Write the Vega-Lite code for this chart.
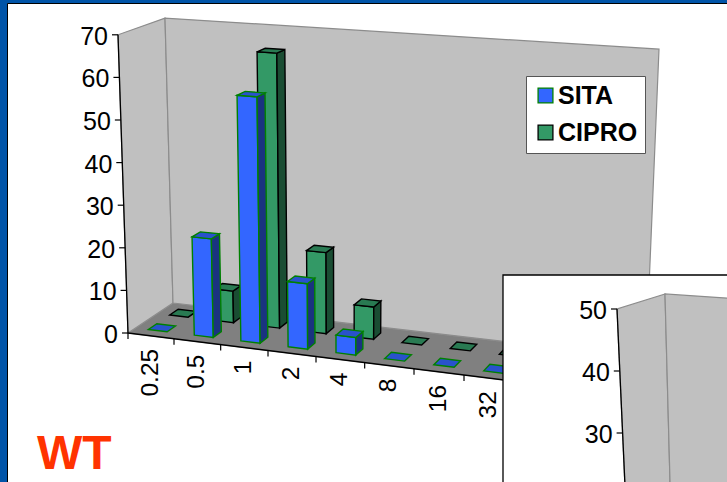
{
  "$schema": "https://vega.github.io/schema/vega-lite/v6.json",
  "width": 720,
  "height": 479,
  "padding": {"left": 7, "top": 3, "right": 0, "bottom": 0},
  "autosize": {"type": "none"},
  "background": "#0054A8",
  "view": {"fill": "#FFFFFF", "stroke": "#000000", "strokeWidth": 1},
  "params": [
    {"name": "insetLeft", "value": 503},
    {"name": "insetTop", "value": 275},
    {"name": "strainLeft", "value": 37},
    {"name": "strainBaseline", "value": 469}
  ],
  "resolve": {"legend": {"fill": "independent", "stroke": "independent", "color": "independent"}},
  "datasets": {
    "strain": [{"label": "WT"}],
    "bars": [
      {"series": "CIPRO", "dose": "0.25", "slot": 0, "value": 0},
      {"series": "CIPRO", "dose": "0.5", "slot": 1, "value": 7.5},
      {"series": "CIPRO", "dose": "1", "slot": 2, "value": 65},
      {"series": "CIPRO", "dose": "2", "slot": 3, "value": 19},
      {"series": "CIPRO", "dose": "4", "slot": 4, "value": 7.5},
      {"series": "CIPRO", "dose": "8", "slot": 5, "value": 0},
      {"series": "CIPRO", "dose": "16", "slot": 6, "value": 0},
      {"series": "CIPRO", "dose": "32", "slot": 7, "value": 0},
      {"series": "SITA", "dose": "0.25", "slot": 0, "value": 0},
      {"series": "SITA", "dose": "0.5", "slot": 1, "value": 23},
      {"series": "SITA", "dose": "1", "slot": 2, "value": 57},
      {"series": "SITA", "dose": "2", "slot": 3, "value": 15},
      {"series": "SITA", "dose": "4", "slot": 4, "value": 4},
      {"series": "SITA", "dose": "8", "slot": 5, "value": 0},
      {"series": "SITA", "dose": "16", "slot": 6, "value": 0},
      {"series": "SITA", "dose": "32", "slot": 7, "value": 0}
    ],
    "surfaces": [
      {"surface": "floor", "vertex": 0, "u": 0, "w": 0, "h": 0},
      {"surface": "floor", "vertex": 1, "u": 10, "w": 0, "h": 0},
      {"surface": "floor", "vertex": 2, "u": 10, "w": 1, "h": 0},
      {"surface": "floor", "vertex": 3, "u": 0, "w": 1, "h": 0},
      {"surface": "side", "vertex": 0, "u": 0, "w": 0, "h": 0},
      {"surface": "side", "vertex": 1, "u": 0, "w": 1, "h": 0},
      {"surface": "side", "vertex": 2, "u": 0, "w": 1, "h": 70},
      {"surface": "side", "vertex": 3, "u": 0, "w": 0, "h": 70},
      {"surface": "back", "vertex": 0, "u": 0, "w": 1, "h": 0},
      {"surface": "back", "vertex": 1, "u": 10, "w": 1, "h": 0},
      {"surface": "back", "vertex": 2, "u": 10, "w": 1, "h": 70},
      {"surface": "back", "vertex": 3, "u": 0, "w": 1, "h": 70}
    ],
    "axisLines": [
      {"line": "value", "vertex": 0, "u": 0, "w": 0, "h": 0},
      {"line": "value", "vertex": 1, "u": 0, "w": 0, "h": 70},
      {"line": "dose", "vertex": 0, "u": 0, "w": 0, "h": 0},
      {"line": "dose", "vertex": 1, "u": 10, "w": 0, "h": 0}
    ],
    "valueTicks": [
      {"h": 0}, {"h": 10}, {"h": 20}, {"h": 30},
      {"h": 40}, {"h": 50}, {"h": 60}, {"h": 70}
    ],
    "insetPanel": [{"panel": "inset"}],
    "insetSurfaces": [
      {"surface": "side", "vertex": 0, "u": 0, "w": 0, "h": 0},
      {"surface": "side", "vertex": 1, "u": 0, "w": 1, "h": 0},
      {"surface": "side", "vertex": 2, "u": 0, "w": 1, "h": 50},
      {"surface": "side", "vertex": 3, "u": 0, "w": 0, "h": 50},
      {"surface": "back", "vertex": 0, "u": 0, "w": 1, "h": 0},
      {"surface": "back", "vertex": 1, "u": 3, "w": 1, "h": 0},
      {"surface": "back", "vertex": 2, "u": 3, "w": 1, "h": 50},
      {"surface": "back", "vertex": 3, "u": 0, "w": 1, "h": 50}
    ],
    "insetAxis": [
      {"vertex": 0, "h": 0},
      {"vertex": 1, "h": 50}
    ],
    "insetTicks": [{"h": 30}, {"h": 40}, {"h": 50}]
  },
  "encoding": {
    "x": {"field": "x", "type": "quantitative", "axis": null, "scale": {"domain": [7, 727], "nice": false, "zero": false}},
    "y": {"field": "y", "type": "quantitative", "axis": null, "scale": {"domain": [482, 3], "nice": false, "zero": false}}
  },
  "layer": [
    {
      "data": {"name": "surfaces"},
      "transform": [
        {"calculate": "(128+45.67*datum.u+.333*datum.u*datum.u)*(1-datum.w)+(173+44*datum.u+.33*datum.u*datum.u)*datum.w+datum.h/70*((-10+2.2*datum.u)*(1-datum.w)+(-8+2.1*datum.u)*datum.w)", "as": "x"},
        {"calculate": "(333+.125*(45.67*datum.u+.333*datum.u*datum.u))*(1-datum.w)+(303+.116*(44*datum.u+.33*datum.u*datum.u))*datum.w-datum.h*((4.26+.036*datum.u)*(1-datum.w)+(4.07+.034*datum.u)*datum.w)", "as": "y"}
      ],
      "mark": {"type": "line", "interpolate": "linear-closed", "stroke": "#8C8C8C", "strokeWidth": 1.2},
      "encoding": {
        "order": {"field": "vertex", "type": "ordinal"},
        "detail": {"field": "surface"},
        "fill": {
          "field": "surface", "type": "nominal", "legend": null,
          "scale": {
            "domain": ["floor", "side", "back", "SITA-front", "SITA-side", "SITA-top", "CIPRO-front", "CIPRO-side", "CIPRO-top"],
            "range": ["#808080", "#C0C0C0", "#C0C0C0", "#3366FF", "#1A3380", "#2952CC", "#339966", "#1A4D33", "#297A52"]
          }
        }
      }
    },
    {
      "data": {"name": "axisLines"},
      "transform": [
        {"calculate": "(128+45.67*datum.u+.333*datum.u*datum.u)*(1-datum.w)+(173+44*datum.u+.33*datum.u*datum.u)*datum.w+datum.h/70*((-10+2.2*datum.u)*(1-datum.w)+(-8+2.1*datum.u)*datum.w)", "as": "x"},
        {"calculate": "(333+.125*(45.67*datum.u+.333*datum.u*datum.u))*(1-datum.w)+(303+.116*(44*datum.u+.33*datum.u*datum.u))*datum.w-datum.h*((4.26+.036*datum.u)*(1-datum.w)+(4.07+.034*datum.u)*datum.w)", "as": "y"}
      ],
      "mark": {"type": "line", "stroke": "#000000", "strokeWidth": 1.3},
      "encoding": {
        "order": {"field": "vertex", "type": "ordinal"},
        "detail": {"field": "line"}
      }
    },
    {
      "data": {"name": "valueTicks"},
      "transform": [
        {"calculate": "128+datum.h/70*-10", "as": "x"},
        {"calculate": "333-datum.h*4.26", "as": "y"},
        {"calculate": "datum.x-6", "as": "xEnd"}
      ],
      "mark": {"type": "rule", "stroke": "#000000", "strokeWidth": 1.2},
      "encoding": {"x2": {"field": "xEnd"}}
    },
    {
      "data": {"name": "valueTicks"},
      "transform": [
        {"calculate": "128+datum.h/70*-10-10", "as": "x"},
        {"calculate": "333-datum.h*4.26", "as": "y"}
      ],
      "mark": {"type": "text", "align": "right", "baseline": "middle", "dy": 2, "font": "Liberation Sans", "fontSize": 25, "color": "#000000"},
      "encoding": {"text": {"field": "h", "type": "quantitative"}}
    },
    {
      "data": {"name": "bars"},
      "transform": [
        {"filter": "datum.series === 'SITA'"},
        {"calculate": "128+45.67*datum.slot+.333*datum.slot*datum.slot", "as": "x"},
        {"calculate": "333+.125*(datum.x-128)", "as": "y"},
        {"calculate": "datum.y+6", "as": "yEnd"}
      ],
      "mark": {"type": "rule", "stroke": "#000000", "strokeWidth": 1.2},
      "encoding": {"y2": {"field": "yEnd"}}
    },
    {
      "data": {"name": "bars"},
      "transform": [
        {"filter": "datum.series === 'SITA'"},
        {"calculate": "45.67*(datum.slot+.5)+.333*(datum.slot+.5)*(datum.slot+.5)", "as": "run"},
        {"calculate": "128+datum.run", "as": "x"},
        {"calculate": "333+.125*datum.run+13", "as": "y"}
      ],
      "mark": {"type": "text", "angle": 270, "align": "right", "baseline": "middle", "font": "Liberation Sans", "fontSize": 24.5, "color": "#000000"},
      "encoding": {"text": {"field": "dose", "type": "nominal"}}
    },
    {
      "data": {"name": "bars"},
      "transform": [
        {"calculate": "['front','side','top']", "as": "face"},
        {"flatten": ["face"]},
        {"filter": "datum.face === 'top' || datum.value > 0"},
        {"calculate": "[0,1,2,3]", "as": "corner"},
        {"flatten": ["corner"]},
        {"calculate": "datum.slot+.28", "as": "u0"},
        {"calculate": "datum.slot+.69", "as": "u1"},
        {"calculate": "datum.series === 'SITA' ? .17 : .65", "as": "w0"},
        {"calculate": "datum.w0+.19", "as": "w1"},
        {"calculate": "datum.face === 'side' ? datum.u1 : ((datum.corner === 0 || datum.corner === 3) ? datum.u0 : datum.u1)", "as": "u"},
        {"calculate": "datum.face === 'front' ? datum.w0 : (datum.face === 'side' ? ((datum.corner === 0 || datum.corner === 3) ? datum.w0 : datum.w1) : (datum.corner < 2 ? datum.w0 : datum.w1))", "as": "w"},
        {"calculate": "datum.face === 'top' ? datum.value : (datum.corner < 2 ? 0 : datum.value)", "as": "h"},
        {"calculate": "datum.series + '-' + datum.face", "as": "shade"},
        {"calculate": "datum.series + '-' + datum.dose + '-' + datum.face", "as": "piece"},
        {"calculate": "(128+45.67*datum.u+.333*datum.u*datum.u)*(1-datum.w)+(173+44*datum.u+.33*datum.u*datum.u)*datum.w+datum.h/70*((-10+2.2*datum.u)*(1-datum.w)+(-8+2.1*datum.u)*datum.w)", "as": "x"},
        {"calculate": "(333+.125*(45.67*datum.u+.333*datum.u*datum.u))*(1-datum.w)+(303+.116*(44*datum.u+.33*datum.u*datum.u))*datum.w-datum.h*((4.26+.036*datum.u)*(1-datum.w)+(4.07+.034*datum.u)*datum.w)", "as": "y"}
      ],
      "mark": {"type": "line", "interpolate": "linear-closed", "strokeWidth": 1.4},
      "encoding": {
        "order": {"field": "corner", "type": "ordinal"},
        "detail": {"field": "piece"},
        "fill": {
          "field": "shade", "type": "nominal", "legend": null,
          "scale": {
            "domain": ["floor", "side", "back", "SITA-front", "SITA-side", "SITA-top", "CIPRO-front", "CIPRO-side", "CIPRO-top"],
            "range": ["#808080", "#C0C0C0", "#C0C0C0", "#3366FF", "#1A3380", "#2952CC", "#339966", "#1A4D33", "#297A52"]
          }
        },
        "stroke": {
          "field": "series", "type": "nominal", "legend": null,
          "scale": {"domain": ["SITA", "CIPRO"], "range": ["#008000", "#000000"]}
        }
      }
    },
    {
      "data": {"name": "bars"},
      "transform": [
        {"calculate": "128+45.67*datum.slot", "as": "x"},
        {"calculate": "333", "as": "y"}
      ],
      "mark": {"type": "square", "size": 1, "opacity": 0},
      "encoding": {
        "color": {
          "field": "series", "type": "nominal",
          "scale": {"domain": ["SITA", "CIPRO"], "range": ["#3366FF", "#339966"]},
          "legend": {
            "title": null,
            "orient": "none",
            "legendX": 519,
            "legendY": 73,
            "padding": 7,
            "fillColor": "#FFFFFF",
            "strokeColor": "#555555",
            "symbolType": "square",
            "symbolSize": 220,
            "symbolOpacity": 1,
            "symbolStrokeWidth": 1.3,
            "labelFont": "Liberation Sans",
            "labelFontSize": 25,
            "labelFontWeight": "bold",
            "labelColor": "#000000",
            "labelOffset": 0,
            "rowPadding": 11,
            "encode": {"symbols": {"update": {"stroke": {"signal": "datum.value === 'SITA' ? '#008000' : '#000000'"}}}}
          }
        }
      }
    },
    {
      "data": {"name": "strain"},
      "transform": [
        {"calculate": "strainLeft", "as": "x"},
        {"calculate": "strainBaseline", "as": "y"}
      ],
      "mark": {"type": "text", "align": "left", "baseline": "alphabetic", "font": "Liberation Sans", "fontSize": 48, "fontWeight": "bold", "color": "#FF3300"},
      "encoding": {"text": {"field": "label", "type": "nominal"}}
    },
    {
      "data": {"name": "insetPanel"},
      "transform": [
        {"calculate": "insetLeft", "as": "x"},
        {"calculate": "insetTop", "as": "y"},
        {"calculate": "datum.x+240", "as": "xEnd"},
        {"calculate": "datum.y+220", "as": "yEnd"}
      ],
      "mark": {"type": "rect", "fill": "#FFFFFF", "stroke": "#000000", "strokeWidth": 1.3},
      "encoding": {"x2": {"field": "xEnd"}, "y2": {"field": "yEnd"}}
    },
    {
      "data": {"name": "insetSurfaces"},
      "transform": [
        {"calculate": "631-.28*datum.h+datum.w*(42+.12*datum.h)+60*datum.u", "as": "x"},
        {"calculate": "619-6.2*datum.h+datum.w*(-25+.2*datum.h)+3.9*datum.u", "as": "y"}
      ],
      "mark": {"type": "line", "interpolate": "linear-closed", "stroke": "#8C8C8C", "strokeWidth": 1.2, "fill": "#C0C0C0"},
      "encoding": {
        "order": {"field": "vertex", "type": "ordinal"},
        "detail": {"field": "surface"}
      }
    },
    {
      "data": {"name": "insetAxis"},
      "transform": [
        {"calculate": "631-.28*datum.h", "as": "x"},
        {"calculate": "619-6.2*datum.h", "as": "y"}
      ],
      "mark": {"type": "line", "stroke": "#000000", "strokeWidth": 1.3},
      "encoding": {"order": {"field": "vertex", "type": "ordinal"}}
    },
    {
      "data": {"name": "insetTicks"},
      "transform": [
        {"calculate": "631-.28*datum.h", "as": "x"},
        {"calculate": "619-6.2*datum.h", "as": "y"},
        {"calculate": "datum.x-6", "as": "xEnd"}
      ],
      "mark": {"type": "rule", "stroke": "#000000", "strokeWidth": 1.2},
      "encoding": {"x2": {"field": "xEnd"}}
    },
    {
      "data": {"name": "insetTicks"},
      "transform": [
        {"calculate": "631-.28*datum.h-10", "as": "x"},
        {"calculate": "619-6.2*datum.h", "as": "y"}
      ],
      "mark": {"type": "text", "align": "right", "baseline": "middle", "dy": 2, "font": "Liberation Sans", "fontSize": 25, "color": "#000000"},
      "encoding": {"text": {"field": "h", "type": "quantitative"}}
    }
  ]
}
